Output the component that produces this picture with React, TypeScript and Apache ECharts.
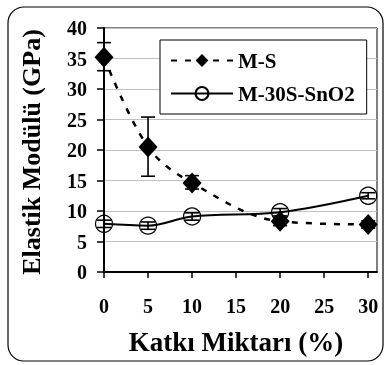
import React, { useEffect, useRef } from "react";
import * as echarts from "echarts";

const xValues = [0, 5, 10, 20, 30];
const msValues = [35.2, 20.5, 14.6, 8.3, 7.8];
const msErrLow = [33.0, 15.7, 13.6, 7.6, 7.2];
const msErrHigh = [37.6, 25.4, 15.8, 9.0, 8.4];
const snValues = [7.9, 7.6, 9.1, 9.8, 12.5];
const snErrLow = [7.3, 7.0, 8.5, 9.2, 12.0];
const snErrHigh = [8.5, 8.2, 9.7, 10.4, 13.0];
const xTicks = [0, 5, 10, 15, 20, 25, 30];
const seriesNames = ["M-S", "M-30S-SnO2"];

const FONT = "'Liberation Serif', 'Times New Roman', serif";

export default function App() {
  const ref = useRef<HTMLDivElement>(null);
  useEffect(() => {
    const chart = echarts.init(ref.current!, null, { renderer: "svg" });
    const errData = (lo: number[], hi: number[]) => xValues.map((x, i) => [x, lo[i], hi[i]]);
    const renderErr = (params: any, api: any) => {
      const x = api.value(0);
      const lo = api.coord([x, api.value(1)]);
      const hi = api.coord([x, api.value(2)]);
      const w = 7;
      const style = { stroke: "#000", lineWidth: 1.6 };
      return {
        type: "group",
        children: [
          { type: "line", shape: { x1: lo[0], y1: lo[1], x2: hi[0], y2: hi[1] }, style },
          { type: "line", shape: { x1: lo[0] - w, y1: lo[1], x2: lo[0] + w, y2: lo[1] }, style },
          { type: "line", shape: { x1: hi[0] - w, y1: hi[1], x2: hi[0] + w, y2: hi[1] }, style },
        ],
      };
    };
    chart.setOption({
      animation: false,
      grid: { left: 104, top: 28, right: 10, bottom: 93, show: true, borderColor: "#000", borderWidth: 1 },
      legend: {
        orient: "vertical",
        left: 160,
        top: 40,
        padding: [10, 12, 10, 10],
        itemGap: 12,
        itemWidth: 62,
        itemHeight: 16,
        backgroundColor: "#fff",
        borderColor: "#000",
        borderWidth: 1,
        textStyle: { fontFamily: FONT, fontWeight: "bold", fontSize: 21, color: "#000" },
        data: seriesNames,
      },
      xAxis: {
        type: "value",
        min: 0,
        max: 31,
        interval: 5,
        axisLine: { show: true, lineStyle: { color: "#000", width: 2 } },
        axisTick: { show: true, length: 6, customValues: xTicks, lineStyle: { color: "#000", width: 1.5 } },
        axisLabel: {
          customValues: xTicks,
          margin: 24,
          fontFamily: FONT,
          fontWeight: "bold",
          fontSize: 20,
          color: "#000",
        },
        splitLine: { show: false },
      },
      yAxis: {
        type: "value",
        min: 0,
        max: 40,
        interval: 5,
        axisLine: { show: true, lineStyle: { color: "#000", width: 2 } },
        axisTick: { show: true, length: 7, lineStyle: { color: "#000", width: 1.5 } },
        axisLabel: { margin: 17, fontFamily: FONT, fontWeight: "bold", fontSize: 20, color: "#000" },
        splitLine: { show: true, lineStyle: { color: "#c0c0c0", width: 1 } },
      },
      graphic: [
        {
          type: "rect",
          shape: { x: 8, y: 7, width: 375, height: 354, r: 16 },
          style: { fill: "none", stroke: "#000", lineWidth: 1.2 },
          silent: true,
        },
        {
          type: "text",
          x: 31,
          y: 152,
          rotation: Math.PI / 2,
          style: {
            text: "Elastik Modülü (GPa)",
            fontFamily: FONT,
            fontWeight: "bold",
            fontSize: 26,
            fill: "#000",
            align: "center",
            verticalAlign: "middle",
          },
        },
        {
          type: "text",
          x: 236,
          y: 342,
          style: {
            text: "Katkı Miktarı (%)",
            fontFamily: FONT,
            fontWeight: "bold",
            fontSize: 27,
            fill: "#000",
            align: "center",
            verticalAlign: "middle",
          },
        },
      ],
      series: [
        {
          name: seriesNames[0],
          type: "line",
          smooth: 0.35,
          data: xValues.map((x, i) => [x, msValues[i]]),
          symbol: "diamond",
          symbolSize: [19, 21],
          itemStyle: { color: "#000" },
          lineStyle: { color: "#000", width: 2.5, type: [6, 8] },
          z: 3,
        },
        {
          name: seriesNames[1],
          type: "line",
          smooth: 0.35,
          data: xValues.map((x, i) => [x, snValues[i]]),
          symbol: "circle",
          symbolSize: 17,
          itemStyle: { color: "rgba(255,255,255,0)", borderColor: "#000", borderWidth: 1.2 },
          lineStyle: { color: "#000", width: 2 },
          z: 3,
        },
        {
          type: "custom",
          renderItem: renderErr,
          data: errData(msErrLow, msErrHigh),
          encode: { x: 0, y: [1, 2] },
          z: 4,
          silent: true,
        },
        {
          type: "custom",
          renderItem: renderErr,
          data: errData(snErrLow, snErrHigh),
          encode: { x: 0, y: [1, 2] },
          z: 4,
          silent: true,
        },
      ],
    });
    return () => chart.dispose();
  }, []);
  return <div ref={ref} style={{ position: "fixed", left: 0, top: 0, width: 387, height: 365 }} />;
}
